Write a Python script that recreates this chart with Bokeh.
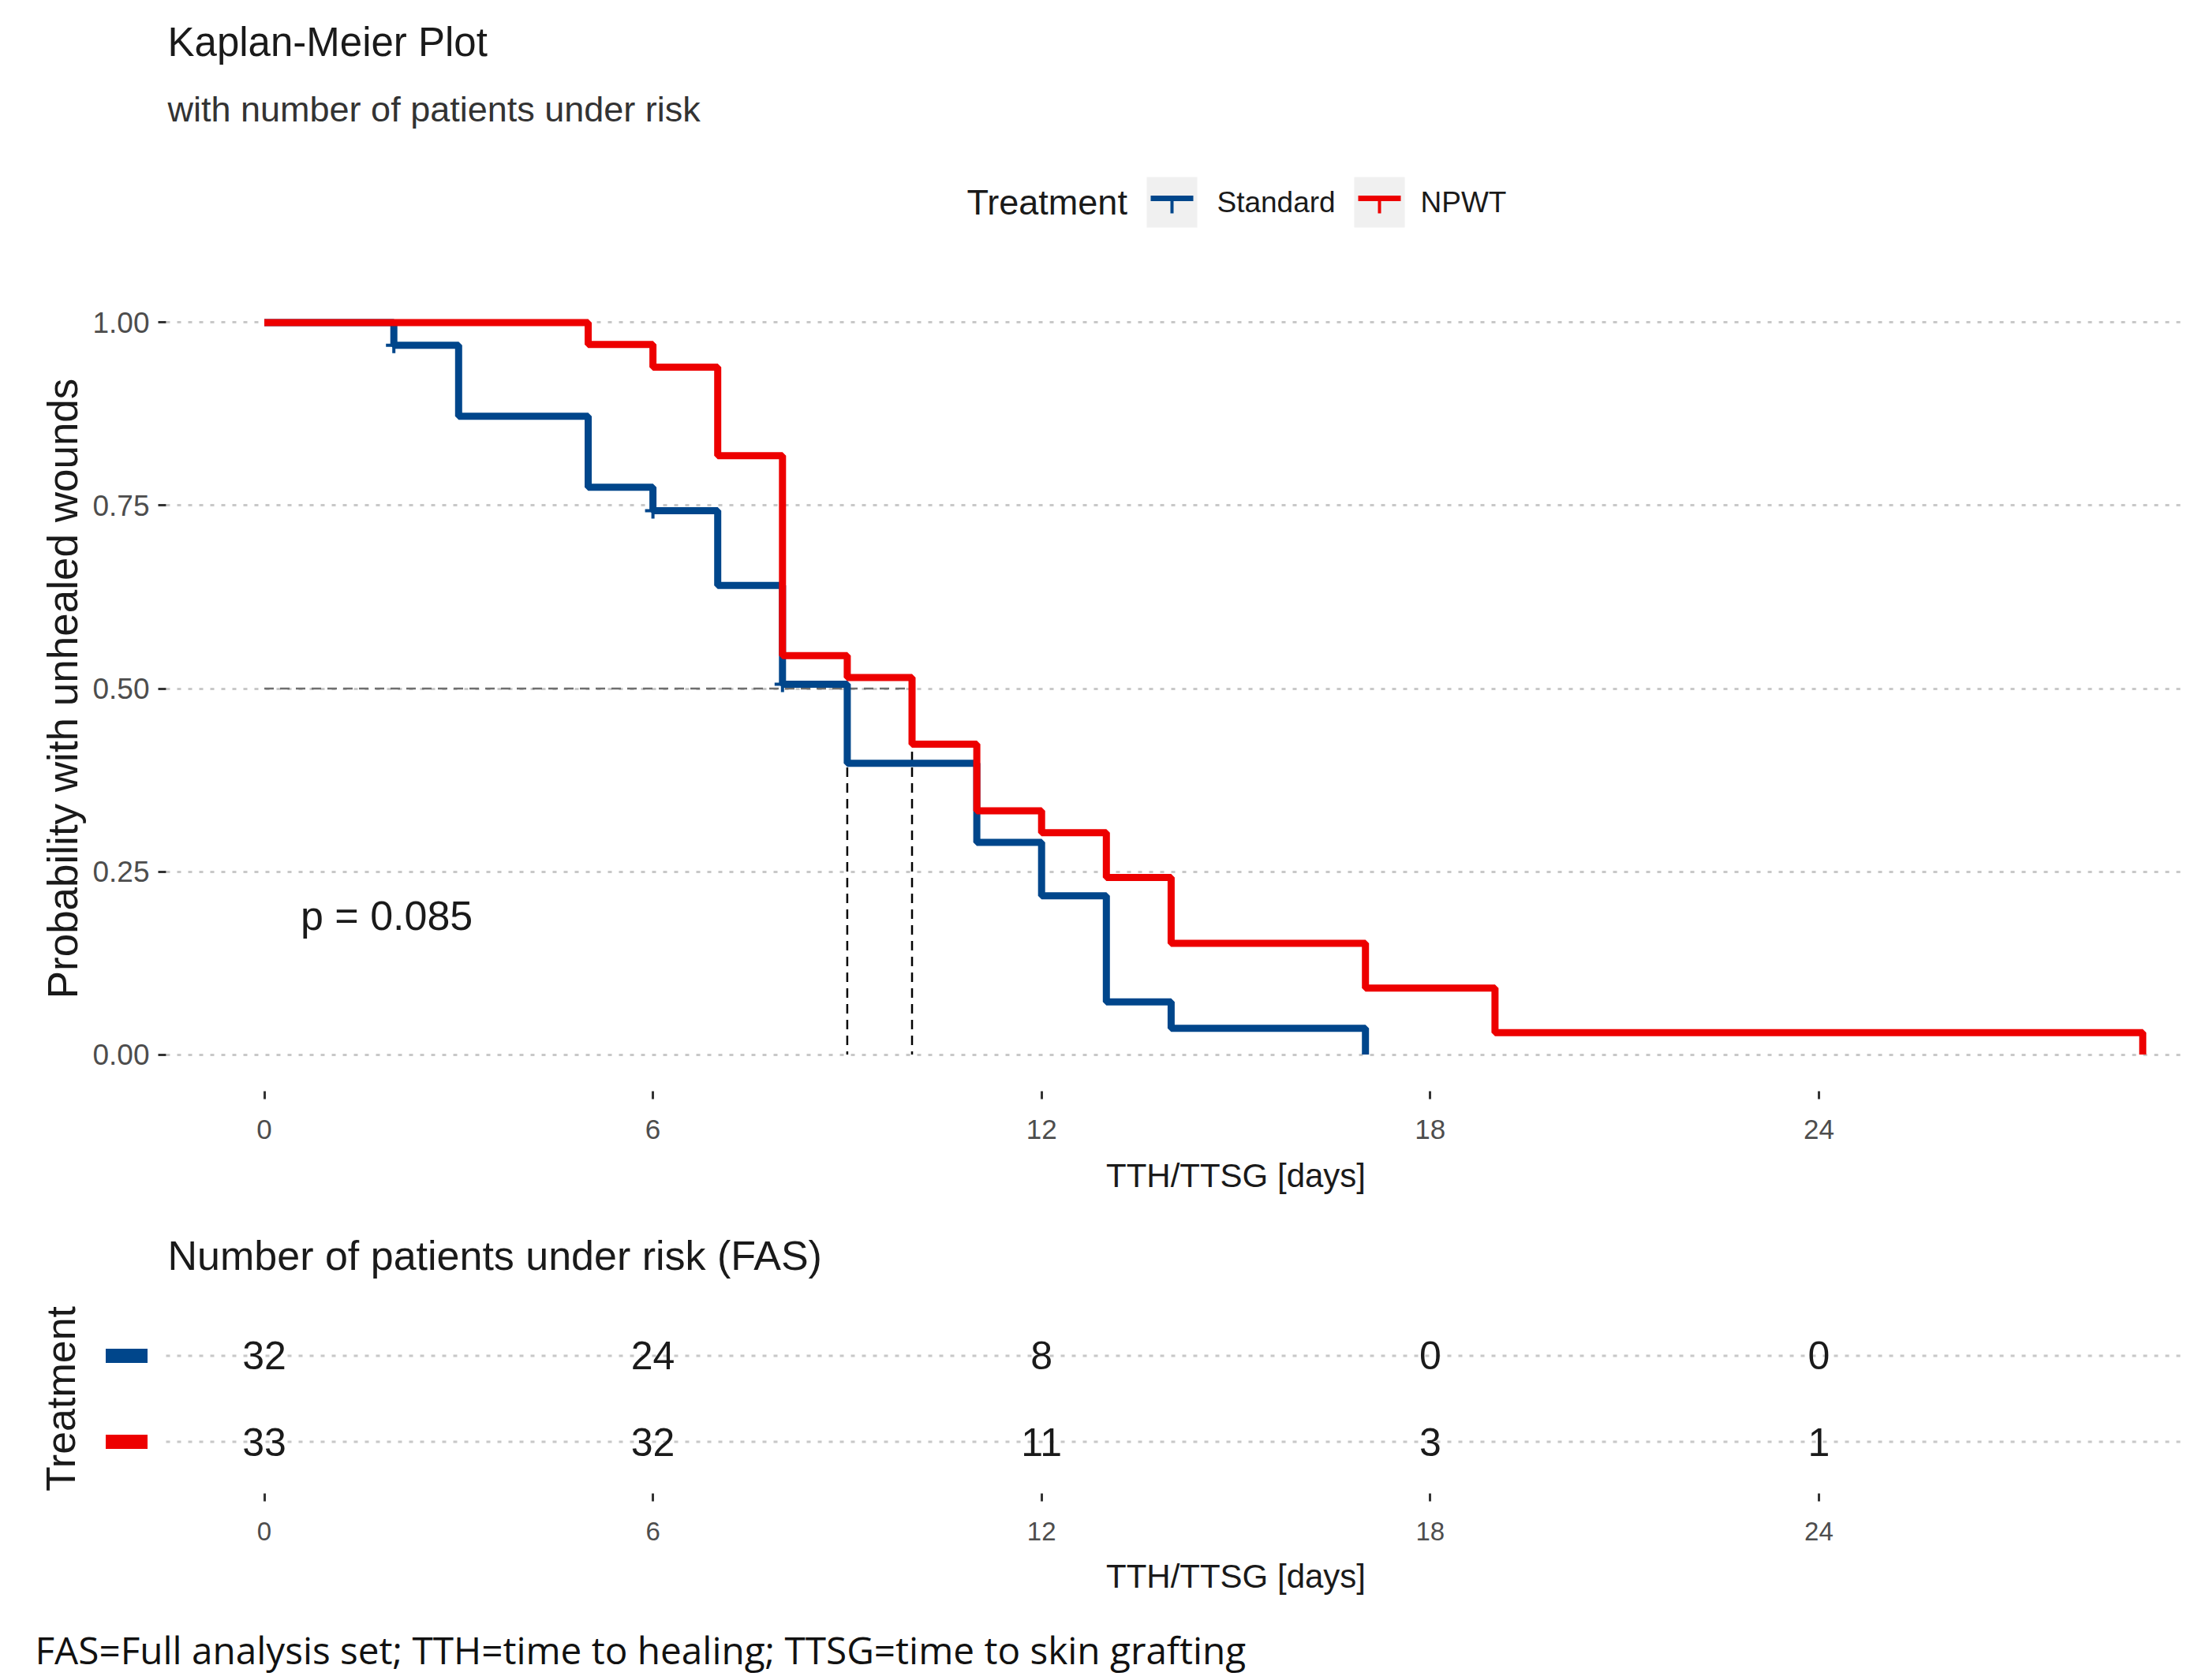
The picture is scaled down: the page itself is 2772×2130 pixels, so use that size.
from bokeh.plotting import figure
from bokeh.layouts import column
from bokeh.models import Range1d, FixedTicker, NumeralTickFormatter
from bokeh.core.properties import value
from bokeh.embed import file_html
from bokeh.resources import INLINE

# ---------------- data ----------------
treatments = ["Standard", "NPWT"]
colors = ["#00468B", "#ED0000"]

std_time = [0, 2, 3, 5, 6, 7, 8, 9, 11, 12, 13, 14, 17]
std_surv = [1.0, 0.969, 0.872, 0.775, 0.743, 0.641, 0.506, 0.398, 0.290, 0.217, 0.072, 0.036, 0.0]
npwt_time = [0, 5, 6, 7, 8, 9, 10, 11, 12, 13, 14, 17, 19, 29]
npwt_surv = [1.0, 0.970, 0.939, 0.818, 0.545, 0.515, 0.424, 0.333, 0.303, 0.242, 0.152, 0.091, 0.030, 0.0]

std_censor_time = [2, 6, 8]
std_censor_surv = [0.969, 0.743, 0.506]

median_time = [9, 10]
p_text = "p = 0.085"
p_pos = (0.56, 0.19)

risk_times = [0, 6, 12, 18, 24]
std_risk = [32, 24, 8, 0, 0]
npwt_risk = [33, 32, 11, 3, 1]

x_ticks = [0, 6, 12, 18, 24]
y_ticks = [0, 0.25, 0.5, 0.75, 1.0]

title_text = "Kaplan-Meier Plot"
subtitle_text = "with number of patients under risk"
legend_title = "Treatment"
y_label = "Probability with unhealed wounds"
x_label = "TTH/TTSG [days]"
risk_title = "Number of patients under risk (FAS)"
risk_y_label = "Treatment"
footer_text = "FAS=Full analysis set; TTH=time to healing; TTSG=time to skin grafting"

# ---------------- geometry ----------------
W = 2764
FONT = value("Liberation Sans")
X0 = 334.5      # x pixel of day 0
PPD = 82.1      # pixels per day
X_END = (W - X0) / PPD
KM_LEFT = 210
RISK_LEFT = 120
XLAB_CX = 1566  # centre of the (cropped) x axis titles
GRID_COLOR = "#C8C8C8"
GRID_DASH = "5 9"
TICK_COLOR = "#4D4D4D"
TEXT_COLOR = "#1A1A1A"


def band(h):
    b = figure(width=W, height=h, x_range=Range1d(0, W), y_range=Range1d(h, 0),
               x_axis_type=None, y_axis_type=None, toolbar_location=None,
               output_backend="svg", min_border=0, frame_align=False)
    b.outline_line_color = None
    b.grid.visible = False
    return b


def style_x_axis(ax, size):
    ax.ticker = FixedTicker(ticks=x_ticks)
    ax.axis_line_color = None
    ax.major_tick_out = 10
    ax.major_tick_in = 0
    ax.major_tick_line_color = "#333333"
    ax.major_tick_line_width = 3
    ax.minor_tick_line_color = None
    ax.major_label_text_font = "Liberation Sans"
    ax.major_label_text_font_size = size
    ax.major_label_text_color = TICK_COLOR
    ax.major_label_standoff = 26


# ---------------- header ----------------
head = band(300)
head.text(x=[212], y=[53], text=[title_text], text_font=FONT, text_font_size="51px",
          text_baseline="middle", text_color=TEXT_COLOR)
head.text(x=[212], y=[138], text=[subtitle_text], text_font=FONT, text_font_size="45px",
          text_baseline="middle", text_color="#333333")
head.text(x=[1225], y=[256], text=[legend_title], text_font=FONT, text_font_size="45px",
          text_baseline="middle", text_color=TEXT_COLOR)
key_x = [1485, 1748]
lab_x = [1542, 1800]
for kx, lx, name, col in zip(key_x, lab_x, treatments, colors):
    head.rect(x=[kx], y=[256], width=64, height=64, fill_color="#F0F0F0", line_color=None)
    head.segment(x0=[kx - 27], y0=[251], x1=[kx + 27], y1=[251], line_color=col, line_width=7)
    head.segment(x0=[kx], y0=[251], x1=[kx], y1=[270], line_color=col, line_width=4)
    head.text(x=[lx], y=[256], text=[name], text_font=FONT, text_font_size="37px",
              text_baseline="middle", text_color=TEXT_COLOR)

# ---------------- KM plot ----------------
km = figure(width=W, height=1163, x_range=Range1d((KM_LEFT - X0) / PPD, X_END),
            y_range=Range1d(-0.05, 1.05), toolbar_location=None, output_backend="svg",
            min_border_top=62, min_border_bottom=80, min_border_left=KM_LEFT,
            min_border_right=0, frame_align=False)
km.outline_line_color = None
km.xgrid.grid_line_color = None
km.ygrid.ticker = FixedTicker(ticks=y_ticks)
km.ygrid.grid_line_color = GRID_COLOR
km.ygrid.grid_line_dash = GRID_DASH
km.ygrid.grid_line_width = 3

style_x_axis(km.xaxis[0], "35px")

ky = km.yaxis[0]
ky.ticker = FixedTicker(ticks=y_ticks)
ky.formatter = NumeralTickFormatter(format="0.00")
ky.axis_line_color = None
ky.major_tick_out = 10
ky.major_tick_in = 0
ky.major_tick_line_color = "#333333"
ky.major_tick_line_width = 3
ky.minor_tick_line_color = None
ky.major_label_text_font = "Liberation Sans"
ky.major_label_text_font_size = "37px"
ky.major_label_text_color = TICK_COLOR
ky.major_label_standoff = 11
ky.axis_label = y_label
ky.axis_label_text_font = "Liberation Sans"
ky.axis_label_text_font_size = "53px"
ky.axis_label_text_font_style = "normal"
ky.axis_label_text_color = TEXT_COLOR
ky.axis_label_standoff = 5

# median lines
km.segment(x0=[0], y0=[0.5], x1=[max(median_time)], y1=[0.5],
           line_color="#6E6E6E", line_width=2.5, line_dash="12 8")
km.segment(x0=median_time, y0=[0.5] * len(median_time), x1=median_time,
           y1=[0] * len(median_time), line_color="black", line_width=2.5, line_dash="12 8")

km.step(x=std_time, y=std_surv, mode="after", line_color=colors[0], line_width=9)
km.scatter(x=std_censor_time, y=std_censor_surv, marker="cross", size=20,
           line_color=colors[0], line_width=4)
km.step(x=npwt_time, y=npwt_surv, mode="after", line_color=colors[1], line_width=9)

km.text(x=[p_pos[0]], y=[p_pos[1]], text=[p_text], text_font=FONT, text_font_size="52px",
        text_baseline="middle", text_color=TEXT_COLOR)

# ---------------- x title + risk table title band ----------------
mid = band(167)
mid.text(x=[XLAB_CX], y=[27], text=[x_label], text_font=FONT, text_font_size="42px",
         text_baseline="middle", text_align="center", text_color=TEXT_COLOR)
mid.text(x=[212], y=[128], text=[risk_title], text_font=FONT, text_font_size="52px",
         text_baseline="middle", text_color=TEXT_COLOR)

# ---------------- risk table ----------------
rows = {name: len(treatments) - 1 - i for i, name in enumerate(treatments)}
risk = figure(width=W, height=338, x_range=Range1d((RISK_LEFT - X0) / PPD, X_END),
              y_range=Range1d(-0.6, 1.6), toolbar_location=None, output_backend="svg",
              min_border_top=23, min_border_bottom=75, min_border_left=RISK_LEFT,
              min_border_right=0, frame_align=False)
risk.outline_line_color = None
risk.grid.visible = False

grid_start = (KM_LEFT - X0) / PPD
for name, col, counts in zip(treatments, colors, [std_risk, npwt_risk]):
    yv = rows[name]
    risk.segment(x0=[grid_start], y0=[yv], x1=[X_END], y1=[yv], line_color=GRID_COLOR,
                 line_width=3, line_dash=GRID_DASH)
    risk.rect(x=[(RISK_LEFT + 40 - X0) / PPD], y=[yv], width=53, height=18,
              width_units="screen", height_units="screen", fill_color=col, line_color=None)
    risk.text(x=risk_times, y=[yv] * len(risk_times), text=[str(c) for c in counts],
              text_font=FONT, text_font_size="50px", text_align="center",
              text_baseline="middle", text_color=TEXT_COLOR)

style_x_axis(risk.xaxis[0], "33px")

ry = risk.yaxis[0]
ry.ticker = FixedTicker(ticks=[])
ry.axis_line_color = None
ry.major_tick_line_color = None
ry.major_tick_out = 0
ry.major_label_standoff = 0
ry.minor_tick_line_color = None
ry.axis_label = risk_y_label
ry.axis_label_text_font = "Liberation Sans"
ry.axis_label_text_font_size = "52px"
ry.axis_label_text_font_style = "normal"
ry.axis_label_text_color = TEXT_COLOR
ry.axis_label_standoff = 15

# ---------------- x title + footer ----------------
foot = band(162)
foot.text(x=[XLAB_CX], y=[30], text=[x_label], text_font=FONT, text_font_size="42px",
          text_baseline="middle", text_align="center", text_color=TEXT_COLOR)
foot.text(x=[44], y=[123], text=[footer_text], text_font=value("Open Sans"),
          text_font_size="47.7px", text_baseline="middle", text_color="#111111")

layout = column(head, km, mid, risk, foot, spacing=0)
open("out.html", "w").write(file_html(layout, INLINE))
